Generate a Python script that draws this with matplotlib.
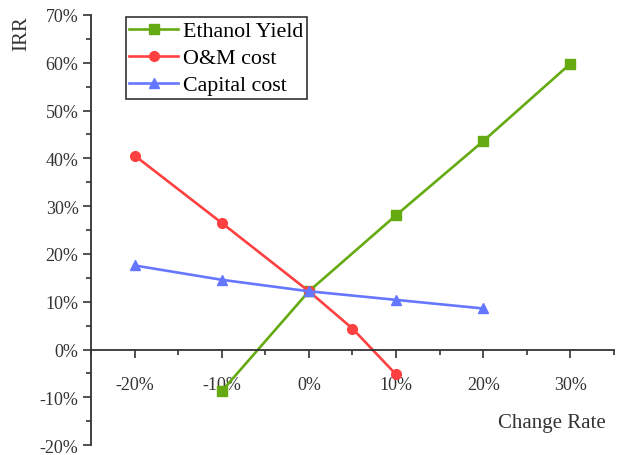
import matplotlib
matplotlib.use("Agg")
import matplotlib.pyplot as plt
from matplotlib.ticker import MultipleLocator, FuncFormatter

plt.rcParams['font.family'] = ['Liberation Serif', 'DejaVu Serif']

# Sensitivity of IRR (%) to change rate (%) of each parameter
ethanol_x = [-10, 0, 10, 20, 30]
ethanol_irr = [-8.7, 12.2, 28.1, 43.6, 59.8]

om_x = [-20, -10, 0, 5, 10]
om_irr = [40.6, 26.5, 12.2, 4.4, -5.2]

capital_x = [-20, -10, 0, 10, 20]
capital_irr = [17.6, 14.6, 12.2, 10.4, 8.6]

fig = plt.figure(figsize=(6.17, 4.56), dpi=100)
ax = fig.add_axes([0.1475, 0.0215, 0.8475, 0.9435])

ax.plot(ethanol_x, ethanol_irr, color='#66aa11', marker='s', markersize=7,
        linewidth=1.9, label='Ethanol Yield')
ax.plot(om_x, om_irr, color='#ff4040', marker='o', markersize=7,
        linewidth=1.9, label='O&M cost')
ax.plot(capital_x, capital_irr, color='#6677ff', marker='^', markersize=7,
        linewidth=1.9, label='Capital cost')

ax.set_xlim(-25, 35)
ax.set_ylim(-20, 70)

axis_color = '#333333'
for side in ('top', 'right'):
    ax.spines[side].set_visible(False)
ax.spines['bottom'].set_position(('data', 0))
for side in ('left', 'bottom'):
    ax.spines[side].set_color(axis_color)
    ax.spines[side].set_linewidth(1.3)

ax.xaxis.set_major_locator(MultipleLocator(10))
ax.xaxis.set_minor_locator(MultipleLocator(5))
ax.yaxis.set_major_locator(MultipleLocator(10))
ax.yaxis.set_minor_locator(MultipleLocator(5))
pct = FuncFormatter(lambda v, _: f"{v:.0f}%")
ax.xaxis.set_major_formatter(pct)
ax.yaxis.set_major_formatter(pct)

ax.tick_params(axis='both', which='major', direction='out', length=6,
               width=1.2, color=axis_color, labelcolor='#333333', labelsize=13)
ax.tick_params(axis='both', which='minor', direction='out', length=3.5,
               width=1.2, color=axis_color)
ax.tick_params(axis='x', which='major', pad=13)
ax.tick_params(axis='y', which='major', pad=3)

fig.text(0.036, 0.965, 'IRR', rotation=90, ha='center', va='top',
         fontsize=15, color='#333333')
fig.text(0.982, 0.072, 'Change Rate', ha='right', va='center',
         fontsize=15, color='#333333')

leg = ax.legend(loc='upper left', bbox_to_anchor=(0.066, 0.995), fontsize=15.8,
                frameon=True, fancybox=False, edgecolor='black',
                handlelength=2.2, handletextpad=0.25, borderpad=0.18,
                labelspacing=0.3, borderaxespad=0)
leg.get_frame().set_linewidth(1.2)

fig.savefig('out.png', dpi=100)
